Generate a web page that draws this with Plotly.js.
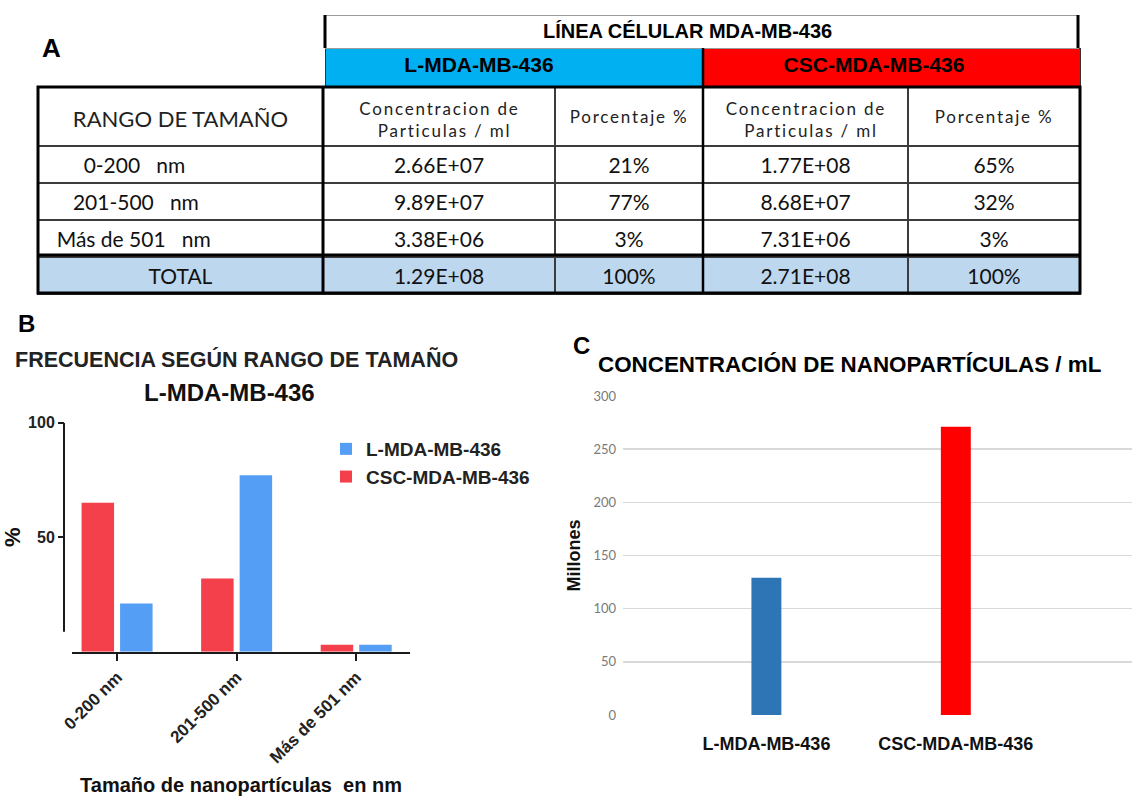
<!DOCTYPE html>
<html><head><meta charset="utf-8">
<script src="https://cdn.plot.ly/plotly-3.0.1.min.js"></script>
<style>html,body{margin:0;padding:0;background:#fff}</style>
</head><body><div id="chart" style="width:1132px;height:796px"></div>
<script>
// ---------------- data ----------------
const sizeRanges = ['0-200 nm', '201-500 nm', 'Más de 501 nm'];
const tableRanges = ['0-200', '201-500', 'Más de 501'];
const tableUnit = 'nm';
const cellLines = ['L-MDA-MB-436', 'CSC-MDA-MB-436'];
const pctL = [21, 77, 3];
const pctCSC = [65, 32, 3];
const concL = [2.66e7, 9.89e7, 3.38e6];
const concCSC = [1.77e8, 8.68e7, 7.31e6];
const totalConc = [1.29e8, 2.71e8];
const totalPct = [100, 100];
const tableTitle = 'LÍNEA CÉLULAR MDA-MB-436';
const colHeaders = ['RANGO DE TAMAÑO', 'Concentracion de<br>Particulas / ml', 'Porcentaje %', 'Concentracion de<br>Particulas / ml', 'Porcentaje %'];
const totalLabel = 'TOTAL';
const titleB = 'FRECUENCIA SEGÚN RANGO DE TAMAÑO';
const titleC = 'CONCENTRACIÓN DE NANOPARTÍCULAS / mL';
const xTitleB = 'Tamaño de nanopartículas  en nm';
const yTitleB = '%';
const yTitleC = 'Millones';
const ticksB = [50, 100];

// ---------------- helpers / styling ----------------
const W = 1132, H = 796;
const X = p => p / W, Y = p => 1 - p / H;
const NB = n => '\u00a0'.repeat(n);
const fmtE = v => { const [m, e] = v.toExponential(2).split('e'); const n = parseInt(e, 10);
  return m.toUpperCase() + 'E' + (n >= 0 ? '+' : '-') + String(Math.abs(n)).padStart(2, '0'); };
const pct = v => v + '%';
const ARIAL = 'Liberation Sans, Arial, sans-serif';
const CAL = 'Lato, Carlito, Calibri, sans-serif';
const indentBefore = [7, 5, 2], indentAfter = [3, 3, 3];
const lineHeaderPad = [12, 6];   // trailing pads that move the coloured header labels left of centre
const titlePad = 5;

const headerValues = colHeaders.map(h => h.replace('<br>', '<br>' + NB(3)));
const rowLabels = tableRanges.map((r, i) => NB(indentBefore[i]) + r + NB(indentAfter[i]) + tableUnit).concat([totalLabel]);
const colConcL = concL.map(fmtE).concat([fmtE(totalConc[0])]);
const colPctL = pctL.map(pct).concat([pct(totalPct[0])]);
const colConcC = concCSC.map(fmtE).concat([fmtE(totalConc[1])]);
const colPctC = pctCSC.map(pct).concat([pct(totalPct[1])]);
const WHITE = '#ffffff', TOT = '#BDD7EE';
const fillCol = [WHITE, WHITE, WHITE, TOT];

const data = [
  // main table
  {
    type: 'table',
    domain: {x: [X(38), X(1080)], y: [Y(320), Y(87)]},
    columnwidth: [285, 232, 148, 205, 172],
    header: {
      values: headerValues, height: 58, align: 'center',
      fill: {color: WHITE}, line: {color: '#3c3c3c', width: 1.5},
      font: {family: CAL, size: [22, 17, 17, 17, 17], color: '#222'}
    },
    cells: {
      values: [rowLabels, colConcL, colPctL, colConcC, colPctC], height: 37,
      align: [['left', 'left', 'left', 'center'], 'center', 'center', 'center', 'center'],
      fill: {color: [fillCol, fillCol, fillCol, fillCol, fillCol]},
      line: {color: '#3c3c3c', width: 1.5},
      font: {family: CAL, size: 21, color: '#111'}
    }
  },
  // cell-line header row
  {
    type: 'table',
    domain: {x: [X(325), X(1080)], y: [Y(120), Y(48)]},
    columnwidth: [378, 377],
    header: {
      values: cellLines.map((c, i) => c + NB(lineHeaderPad[i])), height: 39, align: 'center',
      fill: {color: ['#00B0F0', '#FF0000']}, line: {color: '#333', width: 1},
      font: {family: ARIAL, size: 21, color: '#000', weight: 700}
    },
    cells: {values: [[], []], height: 0}
  },
  // title row
  {
    type: 'table',
    domain: {x: [X(325), X(1078)], y: [Y(80), Y(15)]},
    columnwidth: [1],
    header: {
      values: [tableTitle + NB(titlePad)], height: 33, align: 'center',
      fill: {color: WHITE}, line: {color: '#9a9a9a', width: 1},
      font: {family: ARIAL, size: 20, color: '#000', weight: 700}
    },
    cells: {values: [[]], height: 0}
  },
  // chart B
  {type: 'bar', x: sizeRanges, y: pctCSC, name: cellLines[1], marker: {color: '#F3404A'}, xaxis: 'x', yaxis: 'y'},
  {type: 'bar', x: sizeRanges, y: pctL, name: cellLines[0], marker: {color: '#559EF5'}, xaxis: 'x', yaxis: 'y'},
  // chart C
  {type: 'bar', x: cellLines, y: totalConc.map(v => v / 1e6), width: 0.158,
   marker: {color: ['#2E75B6', '#FF0000']}, xaxis: 'x2', yaxis: 'y2', showlegend: false}
];

const thick = (x0, y0, x1, y1, w) => ({type: 'line', xref: 'paper', yref: 'paper',
  x0: X(x0), x1: X(x1), y0: Y(y0), y1: Y(y1), line: {color: '#000', width: w}});

const ann = (text, x, y, size, color, extra) => Object.assign({text, x: X(x), y: Y(y), xref: 'paper', yref: 'paper',
  showarrow: false, xanchor: 'center', yanchor: 'middle',
  font: {family: ARIAL, size, color, weight: 700}}, extra || {});

const layout = {
  width: W, height: H,
  margin: {l: 0, r: 0, t: 0, b: 0},
  paper_bgcolor: '#fff', plot_bgcolor: 'rgba(0,0,0,0)',
  barmode: 'group', bargap: 0.356, bargroupgap: 0.156,
  showlegend: true,
  legend: {x: X(326), y: Y(430), xanchor: 'left', yanchor: 'top', traceorder: 'reversed',
    font: {family: ARIAL, size: 19, color: '#222', weight: 700}, bgcolor: 'rgba(0,0,0,0)', tracegroupgap: 0},
  xaxis: {
    domain: [X(72), X(410)], range: [-0.377, 2.45], type: 'category', anchor: 'y',
    showline: true, linecolor: '#1a1a1a', linewidth: 2, ticks: 'outside', ticklen: 7, tickwidth: 2,
    tickcolor: '#1a1a1a', tickangle: -45, showgrid: false, zeroline: false,
    tickfont: {family: ARIAL, size: 17, color: '#222', weight: 700},
    title: {text: xTitleB, font: {family: ARIAL, size: 20, color: '#111', weight: 700}, standoff: 22}
  },
  yaxis: {
    domain: [Y(651.7), Y(422.7)], range: [0, 100], anchor: 'free', position: X(64),
    tickvals: ticksB, ticks: 'outside', ticklen: 6, tickwidth: 2, tickcolor: '#1a1a1a',
    showline: false, showgrid: false, zeroline: false,
    tickfont: {family: ARIAL, size: 16, color: '#222', weight: 700},
    title: {text: yTitleB, font: {family: ARIAL, size: 22, color: '#111', weight: 700}, standoff: 4}
  },
  xaxis2: {
    domain: [X(623), X(1132)], range: [-0.757, 1.93], type: 'category', anchor: 'y2',
    showline: false, ticks: '', showgrid: false, zeroline: false, ticklabelstandoff: 16,
    tickfont: {family: ARIAL, size: 18, color: '#111', weight: 700}
  },
  yaxis2: {
    domain: [Y(715), Y(396)], range: [0, 300], dtick: 50, anchor: 'x2',
    showgrid: true, gridcolor: '#d9d9d9', gridwidth: 1.5, zeroline: false, showline: false, ticks: '',
    ticklabelstandoff: 6,
    tickfont: {family: CAL, size: 13, color: '#7a7a7a'},
    title: {text: yTitleC, font: {family: ARIAL, size: 18, color: '#111', weight: 700}, standoff: 8}
  },
  shapes: [
    // y axis line of chart B (offset from baseline)
    {type: 'line', xref: 'paper', yref: 'y', x0: X(64), x1: X(64), y0: 8.7, y1: 100, line: {color: '#1a1a1a', width: 2}},
    // thick table borders
    {type: 'rect', xref: 'paper', yref: 'paper', x0: X(38), x1: X(1080), y0: Y(293), y1: Y(87), line: {color: '#000', width: 3}},
    thick(323, 87, 323, 293, 3),
    thick(703, 48, 703, 293, 2.5),
    thick(38, 255, 1080, 255, 3),
    thick(325, 15, 325, 48, 3),
    thick(1078, 15, 1078, 48, 3)
  ],
  annotations: [
    ann('A', 51, 48, 26, '#000'),
    ann('B', 26, 323, 24, '#000'),
    ann('C', 581, 345, 24, '#000'),
    ann(titleB, 236, 359, 21.5, '#222'),
    ann(cellLines[0], 229, 392, 24, '#111'),
    ann(titleC, 849, 364, 22.4, '#000')
  ]
};

const singleHeaders = colHeaders.filter(h => h.indexOf('<br>') < 0);

Plotly.newPlot('chart', data, layout, {staticPlot: true, displayModeBar: false}).then(gd => {
  const svg = gd.querySelector('svg.main-svg');
  const above = svg.querySelector('g.layer-above');
  gd.querySelectorAll('g.table').forEach(t => {
    if (t.parentNode === svg && above) svg.insertBefore(t, above);
    if (t.textContent.indexOf(totalLabel) < 0) return;   // only the main table
    t.querySelectorAll('text').forEach(tx => {
      const s = tx.textContent;
      let dx = 0, dy = 3;
      if (singleHeaders.indexOf(s) >= 0) { dy = 15; tx.style.letterSpacing = '1.8px'; }
      if (s.indexOf('Particulas') >= 0) { dx = -14; tx.style.letterSpacing = '1.8px'; }
      if (s.indexOf('RANGO') >= 0) tx.style.letterSpacing = '0px';
      const prev = tx.getAttribute('transform') || '';
      tx.setAttribute('transform', prev + ' translate(' + dx + ',' + dy + ')');
    });
  });
});
</script>
</body></html>
